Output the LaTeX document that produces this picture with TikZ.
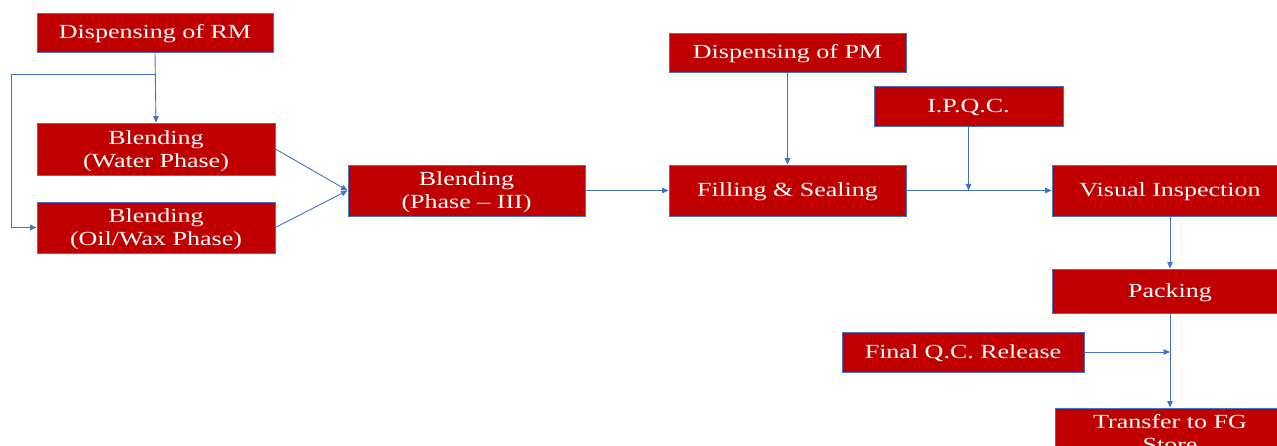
\documentclass[tikz,border=0pt]{standalone}
\usepackage{fontspec}
\setmainfont{Liberation Serif}[FakeStretch=1.3]
\usetikzlibrary{arrows.meta}
\definecolor{boxred}{HTML}{C00000}
\definecolor{linkblue}{HTML}{4472C4}
\begin{document}
\begin{tikzpicture}[x=1pt,y=-1pt,
  stepbox/.style={rectangle, draw=linkblue, line width=0.8pt, fill=boxred,
    text=white, align=center, inner sep=0pt,
    font=\fontsize{20}{23}\selectfont},
  tworow/.style={stepbox, text depth=0pt},
  onerow/.style={stepbox, text height=18pt, text depth=5pt},
  link/.style={draw=linkblue, line width=0.9pt,
    -{Triangle[length=6.5pt,width=5.5pt]}}]
\useasboundingbox (0,0) rectangle (1277,446);
\clip (0,0) rectangle (1277,446);

% process steps
\node[onerow, minimum width=236pt, minimum height=39pt] (rm) at (155,32.5) {Dispensing of RM};
\node[tworow, minimum width=238pt, minimum height=52pt] (water) at (156,149) {Blending\\(Water Phase)};
\node[tworow, minimum width=238pt, minimum height=51pt] (oil) at (156,227.5) {Blending\\(Oil/Wax Phase)};
\node[tworow, minimum width=237pt, minimum height=51pt] (ph3) at (466.5,190.5) {Blending\\(Phase -- III)};
\node[onerow, minimum width=237pt, minimum height=39pt] (pm) at (787.5,52.5) {Dispensing of PM};
\node[onerow, minimum width=237pt, minimum height=51pt] (fill) at (787.5,190.5) {Filling \& Sealing};
\node[onerow, minimum width=189pt, minimum height=40pt] (ipqc) at (968.5,106) {I.P.Q.C.};
\node[onerow, minimum width=236pt, minimum height=51pt] (vis) at (1170,190.5) {Visual Inspection};
\node[onerow, minimum width=236pt, minimum height=44pt] (pack) at (1170,291) {Packing};
\node[onerow, minimum width=242pt, minimum height=40pt] (fqc) at (963,352) {Final Q.C. Release};
\node[stepbox, minimum width=230pt, minimum height=51pt] (fg) at (1170,433.5) {Transfer to FG\\Store};

% raw material split
\coordinate (split) at (155,74);
\coordinate (rail) at (11,74);
\draw[link] (rm.south) -- (water.north);
\draw[link] (split) -- (rail) |- (oil.west);

% blending into phase III
\draw[link] (water.east) -- (ph3.west);
\draw[link] (oil.east) -- (ph3.west);
\draw[link] (ph3.east) -- (fill.west);

% filling line
\draw[link] (pm.south) -- (fill.north);
\draw[link] (fill.east) -- (vis.west);
\draw[link] (ipqc.south) -- (ipqc.south |- fill.east);

% packing and release
\draw[link] (vis.south) -- (pack.north);
\draw[link] (pack.south) -- (fg.north);
\draw[link] (fqc.east) -- (pack.south |- fqc.east);
\end{tikzpicture}
\end{document}
